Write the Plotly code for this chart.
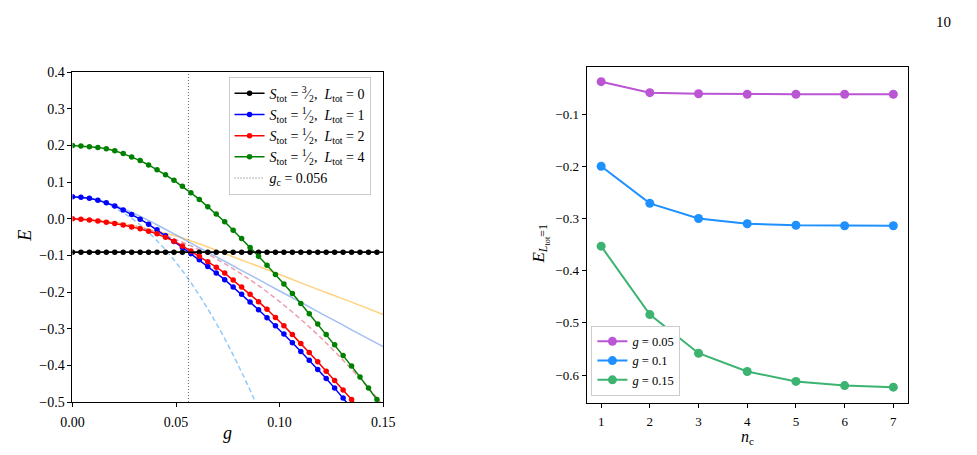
import plotly.graph_objects as go

FONT = "Liberation Serif, serif"

# ---------------- Left panel data ----------------
G = [0.0, 0.00408, 0.00817, 0.01225, 0.01633, 0.02042, 0.0245, 0.02858, 0.03267,
     0.03675, 0.04083, 0.04492, 0.049, 0.05308, 0.05717, 0.06125, 0.06533, 0.06942,
     0.0735, 0.07758, 0.08167, 0.08575, 0.08983, 0.09392, 0.098, 0.10208, 0.10617,
     0.11025, 0.11433, 0.11842, 0.1225, 0.12658, 0.13067, 0.13475, 0.13883, 0.14292, 0.147]

E_S32_L0 = [-0.091, -0.091, -0.091, -0.091, -0.091, -0.091, -0.091, -0.091, -0.091,
            -0.091, -0.091, -0.091, -0.091, -0.091, -0.091, -0.091, -0.091, -0.091,
            -0.091, -0.091, -0.091, -0.091, -0.091, -0.091, -0.091, -0.091, -0.091,
            -0.091, -0.091, -0.091, -0.091, -0.091, -0.091, -0.091, -0.091, -0.091, -0.091]

E_S12_L1 = [0.060, 0.059, 0.056, 0.051, 0.044, 0.035, 0.024, 0.012, -0.001,
            -0.015, -0.030, -0.046, -0.062, -0.078, -0.095, -0.112, -0.130, -0.148,
            -0.166, -0.186, -0.206, -0.227, -0.248, -0.270, -0.292, -0.314, -0.338,
            -0.362, -0.386, -0.411, -0.436, -0.462, -0.489, -0.515, -0.540, -0.570, -0.600]

E_S12_L2 = [0.000, -0.001, -0.003, -0.006, -0.009, -0.013, -0.017, -0.022, -0.027,
            -0.034, -0.041, -0.050, -0.061, -0.074, -0.088, -0.102, -0.117, -0.132,
            -0.148, -0.167, -0.186, -0.206, -0.226, -0.247, -0.269, -0.292, -0.316,
            -0.340, -0.365, -0.390, -0.416, -0.441, -0.467, -0.493, -0.520, -0.545, -0.570]

E_S12_L4 = [0.200, 0.199, 0.197, 0.195, 0.191, 0.186, 0.178, 0.169, 0.159,
            0.147, 0.134, 0.120, 0.105, 0.089, 0.071, 0.053, 0.033, 0.013,
            -0.008, -0.031, -0.054, -0.078, -0.102, -0.127, -0.152, -0.178, -0.204,
            -0.231, -0.259, -0.287, -0.316, -0.344, -0.373, -0.402, -0.432, -0.462, -0.493]

G_C = 0.056

# auxiliary (approximation) curves
G_AUX = [0.0, 0.01, 0.02, 0.03, 0.04, 0.05, 0.06, 0.07, 0.08, 0.09,
         0.10, 0.11, 0.12, 0.13, 0.14, 0.15]
E_AUX_BLUE = [0.060, 0.055, 0.038, 0.014, -0.014, -0.044, -0.075, -0.105, -0.136, -0.166,
              -0.197, -0.227, -0.258, -0.288, -0.319, -0.349]
E_AUX_ORANGE = [0.000, -0.003, -0.009, -0.019, -0.033, -0.047, -0.066, -0.087, -0.109, -0.130,
                -0.152, -0.174, -0.196, -0.217, -0.239, -0.261]
E_AUX_PINK_DASH = [0.000, -0.002, -0.009, -0.020, -0.036, -0.057, -0.081, -0.111, -0.145, -0.183,
                   -0.226, -0.273, -0.325, -0.382, -0.443, -0.509]
G_AUX_SKY = [0.0, 0.01, 0.02, 0.03, 0.04, 0.05, 0.06, 0.07, 0.08, 0.09]
E_AUX_SKY_DASH = [0.060, 0.053, 0.031, -0.005, -0.055, -0.119, -0.198, -0.291, -0.399, -0.521]

# ---------------- Right panel data ----------------
NC = [1, 2, 3, 4, 5, 6, 7]
E_G005 = [-0.038, -0.059, -0.061, -0.062, -0.062, -0.062, -0.062]
E_G010 = [-0.200, -0.271, -0.300, -0.310, -0.313, -0.314, -0.314]
E_G015 = [-0.353, -0.484, -0.558, -0.593, -0.612, -0.620, -0.623]

fig = go.Figure()

# aux lines (left)
fig.add_trace(go.Scatter(x=G_AUX, y=E_AUX_ORANGE, mode="lines", showlegend=False,
                         line=dict(color="rgba(255,165,0,0.5)", width=1.5, shape="spline"),
                         hoverinfo="skip", xaxis="x", yaxis="y"))
fig.add_trace(go.Scatter(x=G_AUX, y=E_AUX_BLUE, mode="lines", showlegend=False,
                         line=dict(color="rgba(100,149,237,0.6)", width=1.5, shape="spline"),
                         hoverinfo="skip", xaxis="x", yaxis="y"))
fig.add_trace(go.Scatter(x=G_AUX, y=E_AUX_PINK_DASH, mode="lines", showlegend=False,
                         line=dict(color="rgba(225,90,120,0.6)", width=1.5, dash="5px,3px", shape="spline"),
                         hoverinfo="skip", xaxis="x", yaxis="y"))
fig.add_trace(go.Scatter(x=G_AUX_SKY, y=E_AUX_SKY_DASH, mode="lines", showlegend=False,
                         line=dict(color="rgba(100,180,250,0.7)", width=1.5, dash="5px,3px", shape="spline"),
                         hoverinfo="skip", xaxis="x", yaxis="y"))

# main curves (left)
main = [
    (E_S32_L0, "black", "<i>S</i><sub>tot</sub> = <sup>3</sup>⁄<sub>2</sub>,  <i>L</i><sub>tot</sub> = 0"),
    (E_S12_L1, "#0000ff", "<i>S</i><sub>tot</sub> = <sup>1</sup>⁄<sub>2</sub>,  <i>L</i><sub>tot</sub> = 1"),
    (E_S12_L2, "#ff0000", "<i>S</i><sub>tot</sub> = <sup>1</sup>⁄<sub>2</sub>,  <i>L</i><sub>tot</sub> = 2"),
    (E_S12_L4, "#008000", "<i>S</i><sub>tot</sub> = <sup>1</sup>⁄<sub>2</sub>,  <i>L</i><sub>tot</sub> = 4"),
]
for ys, col, name in main:
    fig.add_trace(go.Scatter(x=G, y=ys, mode="lines+markers", name=name,
                             line=dict(color=col, width=1.5),
                             marker=dict(color=col, size=5.5),
                             legend="legend", xaxis="x", yaxis="y"))

Y_LEFT = [-0.5, 0.4]
fig.add_trace(go.Scatter(x=[G_C, G_C], y=Y_LEFT, mode="lines",
                         name="<i>g</i><sub>c</sub> = 0.056",
                         line=dict(color="#666666", width=1, dash="1px,2px"),
                         legend="legend", xaxis="x", yaxis="y"))

# black level line across the full width
fig.add_shape(type="line", xref="x domain", yref="y", x0=0, x1=1,
              y0=E_S32_L0[-1], y1=E_S32_L0[-1], line=dict(color="black", width=1.5))

# right panel
for ys, col, name in [(E_G005, "#BA55D3", "<i>g</i> = 0.05"),
                      (E_G010, "#1E90FF", "<i>g</i> = 0.1"),
                      (E_G015, "#3CB371", "<i>g</i> = 0.15")]:
    fig.add_trace(go.Scatter(x=NC, y=ys, mode="lines+markers", name=name,
                             line=dict(color=col, width=2),
                             marker=dict(color=col, size=9),
                             legend="legend2", xaxis="x2", yaxis="y2"))

W, H = 977, 455
axis_common = dict(showline=True, linecolor="black", linewidth=1, mirror=True,
                   ticks="outside", ticklen=4, tickwidth=1, tickcolor="black",
                   showgrid=False, zeroline=False)

fig.update_layout(
    width=W, height=H, margin=dict(l=0, r=0, t=0, b=0),
    paper_bgcolor="white", plot_bgcolor="white",
    font=dict(family=FONT, color="black"),
    xaxis=dict(domain=[62 / W, 380.5 / W], range=[0, 0.15], anchor="y",
               tickvals=[0, 0.05, 0.10, 0.15], tickformat=".2f", ticklabelstandoff=3,
               tickfont=dict(family=FONT, size=14, color="black"), **axis_common),
    yaxis=dict(domain=[1 - 408.5 / H, 1 - 67.5 / H], range=Y_LEFT, anchor="x",
               tickvals=[-0.5, -0.4, -0.3, -0.2, -0.1, 0.0, 0.1, 0.2, 0.3, 0.4], tickformat=".1f",
               tickfont=dict(family=FONT, size=14, color="black"), **axis_common),
    xaxis2=dict(domain=[589 / W, 918.5 / W], range=[0.7, 7.3], anchor="y2", ticklabelstandoff=3,
                tickvals=NC, tickfont=dict(family=FONT, size=13, color="black"), **axis_common),
    yaxis2=dict(domain=[1 - 409 / H, 1 - 62 / H], range=[-0.6524, -0.0098], anchor="x2",
                tickvals=[-0.6, -0.5, -0.4, -0.3, -0.2, -0.1], tickformat=".1f",
                tickfont=dict(family=FONT, size=13, color="black"), **axis_common),
    legend=dict(x=222 / W, y=1 - 72 / H, xanchor="left", yanchor="top",
                bgcolor="white", bordercolor="#cccccc", borderwidth=1,
                font=dict(family=FONT, size=14, color="black"), tracegroupgap=0),
    legend2=dict(x=594 / W, y=1 - 402 / H, xanchor="left", yanchor="bottom",
                 bgcolor="white", bordercolor="#cccccc", borderwidth=1,
                 font=dict(family=FONT, size=12.5, color="black"), tracegroupgap=0),
    showlegend=True,
)

ann = [
    dict(text="<i>E</i>", x=14 / W, y=1 - 237 / H, textangle=-90, size=18),
    dict(text="<i>g</i>", x=221 / W, y=1 - 441 / H, textangle=0, size=18),
    dict(text="<i>n</i><sub>c</sub>", x=754 / W, y=1 - 445 / H, textangle=0, size=16),
    dict(text="<i>E</i><sub><i>L</i><sub>tot</sub>=1</sub>", x=542 / W, y=1 - 245 / H, textangle=-90, size=17),
    dict(text="10", x=955 / W, y=1 - 15 / H, textangle=0, size=15),
]
for a in ann:
    fig.add_annotation(text=a["text"], x=a["x"], y=a["y"], xref="paper", yref="paper",
                       showarrow=False, textangle=a["textangle"],
                       xanchor="center", yanchor="middle",
                       font=dict(family=FONT, size=a["size"], color="black"))

fig.write_html("out.html")
